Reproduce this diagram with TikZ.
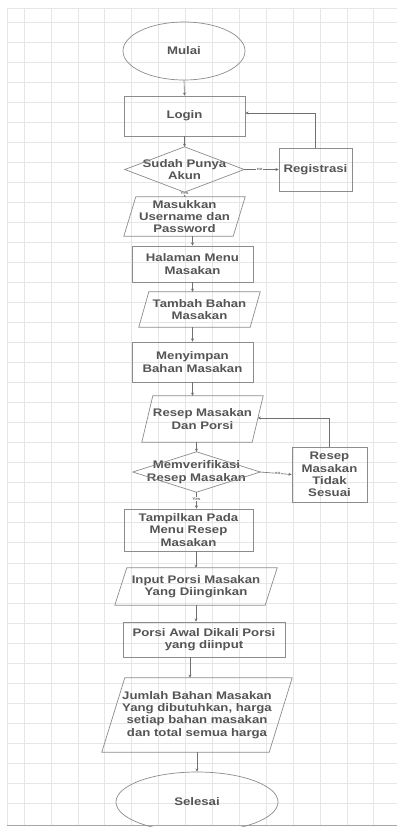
\documentclass[tikz,border=0pt]{standalone}
\usepackage{fontspec}
\setmainfont[FakeStretch=1.2]{Liberation Sans}
\usetikzlibrary{arrows.meta,shapes.geometric}

\definecolor{gridc}{HTML}{E6E6E6}
\definecolor{edgec}{HTML}{8C8C8C}
\definecolor{linec}{HTML}{707070}
\definecolor{txtc}{HTML}{555555}

\tikzset{
  box/.style={rectangle, inner sep=0pt, align=center, text=txtc,
    font=\fontsize{11}{12.3}\selectfont\bfseries},
  framed/.style={box, draw=edgec, line width=0.7pt},
  oval/.style={box, ellipse, draw=edgec, line width=0.7pt},
  outline/.style={draw=edgec, line width=0.7pt, line join=miter},
  flow/.style={draw=linec, line width=0.6pt, -{Stealth[length=3.2pt,width=3pt]}},
  tag/.style={font=\fontsize{4}{4}\selectfont\bfseries, text=linec, inner sep=0.5pt, fill=white},
}

\begin{document}
\begin{tikzpicture}[x=1pt,y=-1pt]
  \useasboundingbox (0,0) rectangle (397,827);
  \fill[white] (0,0) rectangle (397,827);

  % background grid
  \foreach \k in {0,...,13} \draw[gridc, line width=0.6pt] ({24+26.9*\k},8) -- ({24+26.9*\k},825);
  \foreach \k in {0,...,39} \draw[gridc, line width=0.6pt] (7,{22+20.03*\k}) -- (397,{22+20.03*\k});
  \draw[gridc, line width=0.6pt] (7,8) -- (7,825);
  \draw[gridc, line width=0.6pt] (7,8) -- (397,8);
  \draw[black!35, line width=1pt] (7,825) -- (397,825);

  % start
  \node[oval, minimum width=122pt, minimum height=58pt] (mulai) at (184,51) {Mulai};
  \node[framed, minimum width=121pt, minimum height=40pt] (login) at (184.5,116) {Login};

  % account check
  \node[box, minimum width=119pt, minimum height=45pt] (akun) at (184.5,169.5) {Sudah Punya\\Akun};
  \draw[outline] (akun.north) -- (akun.east) -- (akun.south) -- (akun.west) -- cycle;
  \node[framed, minimum width=73pt, minimum height=43pt] (reg) at (315.5,169.5) {Registrasi};

  \node[box, minimum width=121pt, minimum height=39pt] (masuk) at (184.5,216.5) {Masukkan\\Username dan\\Password};
  \draw[outline] ([xshift=12pt]masuk.north west) -- (masuk.north east) -- ([xshift=-12pt]masuk.south east) -- (masuk.south west) -- cycle;

  \node[framed, minimum width=121pt, minimum height=36pt] (halaman) at (192.5,264) {Halaman Menu\\Masakan};

  \node[box, minimum width=121pt, minimum height=35pt] (tambah) at (199.5,309.5) {Tambah Bahan\\Masakan};
  \draw[outline] ([xshift=10pt]tambah.north west) -- (tambah.north east) -- ([xshift=-10pt]tambah.south east) -- (tambah.south west) -- cycle;

  \node[framed, minimum width=121pt, minimum height=40pt] (simpan) at (192.5,362) {Menyimpan\\Bahan Masakan};

  \node[box, minimum width=121pt, minimum height=46pt] (resep) at (202.5,419) {Resep Masakan\\Dan Porsi};
  \draw[outline] ([xshift=11pt]resep.north west) -- (resep.north east) -- ([xshift=-11pt]resep.south east) -- (resep.south west) -- cycle;
  \coordinate (resepR) at (257.7,418);

  % recipe check
  \node[box, minimum width=127pt, minimum height=40pt] (verif) at (196.5,472) {Memverifikasi\\Resep Masakan};
  \draw[outline] (verif.north) -- (verif.east) -- (verif.south) -- (verif.west) -- cycle;
  \node[framed, minimum width=75pt, minimum height=55pt] (tidak) at (329.5,474.5) {Resep\\Masakan\\Tidak\\Sesuai};

  \node[framed, minimum width=129pt, minimum height=42pt] (tampil) at (188.5,530) {Tampilkan Pada\\Menu Resep\\Masakan};

  \node[box, minimum width=162pt, minimum height=37pt] (input) at (196,586.5) {Input Porsi Masakan\\Yang Diinginkan};
  \draw[outline] ([xshift=12pt]input.north west) -- (input.north east) -- ([xshift=-12pt]input.south east) -- (input.south west) -- cycle;

  \node[framed, minimum width=162pt, minimum height=35pt] (porsi) at (204,639.5) {Porsi Awal Dikali Porsi\\yang diinput};

  \node[box, minimum width=190pt, minimum height=74pt] (jumlah) at (197,715) {Jumlah Bahan Masakan\\Yang dibutuhkan, harga\\setiap bahan masakan\\dan total semua harga};
  \draw[outline] ([xshift=23pt]jumlah.north west) -- (jumlah.north east) -- ([xshift=-23pt]jumlah.south east) -- (jumlah.south west) -- cycle;

  \node[oval, minimum width=162pt, minimum height=60pt] (selesai) at (197,802) {Selesai};

  % connectors
  \draw[flow] (mulai.south) -- (login.north);
  \draw[flow] (login.south) -- (akun.north);
  \draw[flow] (akun.east) -- node[tag, pos=0.45] {no} (reg.west);
  \draw[flow] (reg.north) |- ([yshift=3pt]login.east);
  \draw[flow] (akun.south) -- node[tag, pos=0.3] {Yes} (masuk.north);
  \draw[flow] (halaman.north |- masuk.south) -- (halaman.north);
  \draw[flow] (halaman.south) -- (halaman.south |- tambah.north);
  \draw[flow] (simpan.north |- tambah.south) -- (simpan.north);
  \draw[flow] (simpan.south) -- (simpan.south |- resep.north);
  \draw[flow] (verif.north |- resep.south) -- (verif.north);
  \draw[flow] (verif.east) -- node[tag, pos=0.55] {no} (tidak.west);
  \draw[flow] (tidak.north) |- (resepR);
  \draw[flow] (verif.south) -- node[tag, pos=0.4] {Yes} (verif.south |- tampil.north);
  \draw[flow] (input.north |- tampil.south) -- (input.north);
  \draw[flow] (input.south) -- (input.south |- porsi.north);
  \draw[flow] ([xshift=-14pt]porsi.south) -- ([xshift=-14pt]porsi.south |- jumlah.north);
  \draw[flow] (jumlah.south) -- (selesai.north);
\end{tikzpicture}
\end{document}
